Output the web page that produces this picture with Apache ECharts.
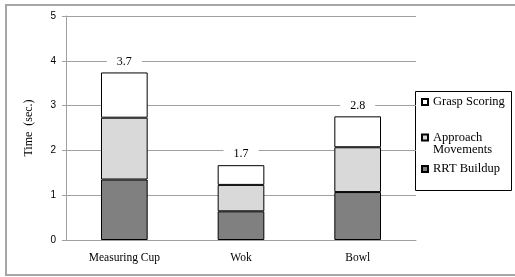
<!DOCTYPE html>
<html>
<head>
<meta charset="utf-8">
<style>
  html, body { margin: 0; padding: 0; background: #fff; }
  #chart { width: 515px; height: 277px; }
</style>
<script src="https://cdn.jsdelivr.net/npm/echarts@6/dist/echarts.min.js"></script>
</head>
<body>
<div id="chart"></div>
<script>
const categories = ['Measuring Cup', 'Wok', 'Bowl'];
const rrtBuildup = [1.35, 0.64, 1.07];
const approachMovements = [1.38, 0.59, 1.00];
const graspScoring = [1.01, 0.44, 0.69];
const yTicks = [0, 1, 2, 3, 4, 5];

const serif = '"Liberation Serif", "Times New Roman", serif';
const sans = '"Liberation Sans", Arial, sans-serif';

const chart = echarts.init(document.getElementById('chart'));

// total on top of each stack
const totals = categories.map((c, i) => rrtBuildup[i] + approachMovements[i] + graspScoring[i]);

function legendFor(name, top, extra) {
    return Object.assign({
        data: [name],
        orient: 'vertical',
        left: 421,
        top: top,
        padding: 0,
        itemWidth: 6,
        itemHeight: 6,
        icon: 'rect',
        selectedMode: false,
        textStyle: { fontFamily: serif, fontSize: 12.5, color: '#000', lineHeight: 12.5 }
    }, extra || {});
}

chart.setOption({
    animation: false,
    backgroundColor: '#fff',
    grid: { left: 66, right: 99, top: 16, bottom: 37 },
    graphic: [
        { type: 'rect', shape: { x: 6, y: 5, width: 520, height: 270 }, style: { fill: 'none', stroke: '#a6a6a6', lineWidth: 2 } },
        { type: 'rect', shape: { x: 415.5, y: 91.5, width: 96, height: 99 }, style: { fill: '#fff', stroke: '#000', lineWidth: 1 } }
    ],
    legend: [
        legendFor('Grasp Scoring', 95.5),
        // blank first line keeps the icon level with "Approach"
        legendFor('Approach Movements', 118.5, {
            formatter: () => '\nApproach\nMovements'
        }),
        legendFor('RRT Buildup', 162.5)
    ],
    xAxis: {
        type: 'category',
        data: categories,
        axisLine: { lineStyle: { color: '#a0a0a0', width: 1 } },
        axisTick: { show: false },
        axisLabel: { fontFamily: serif, fontSize: 11.5, color: '#000', margin: 12 }
    },
    yAxis: {
        type: 'value',
        min: yTicks[0],
        max: yTicks[yTicks.length - 1],
        interval: 1,
        name: 'Time  (sec.)',
        nameLocation: 'middle',
        nameGap: 31,
        nameTextStyle: { fontFamily: serif, fontSize: 12, color: '#000' },
        axisLine: { show: true, lineStyle: { color: '#a0a0a0', width: 1 } },
        axisTick: { show: true, length: 4, lineStyle: { color: '#a0a0a0' } },
        axisLabel: { fontFamily: sans, fontSize: 10, color: '#000', margin: 10 },
        splitLine: { lineStyle: { color: '#a0a0a0', width: 1 } }
    },
    series: [
        {
            name: 'RRT Buildup',
            type: 'bar',
            stack: 'total',
            barWidth: '40%',
            data: rrtBuildup,
            itemStyle: { color: '#808080', borderColor: '#000', borderWidth: 1 }
        },
        {
            name: 'Approach Movements',
            type: 'bar',
            stack: 'total',
            barWidth: '40%',
            data: approachMovements,
            itemStyle: { color: '#d9d9d9', borderColor: '#000', borderWidth: 1 }
        },
        {
            name: 'Grasp Scoring',
            type: 'bar',
            stack: 'total',
            barWidth: '40%',
            data: graspScoring,
            itemStyle: { color: '#ffffff', borderColor: '#000', borderWidth: 1 },
            label: {
                show: true,
                position: 'top',
                distance: 3,
                formatter: p => totals[p.dataIndex].toFixed(1),
                fontFamily: serif,
                fontSize: 12,
                color: '#000',
                backgroundColor: '#fff',
                padding: [2, 10]
            }
        }
    ]
});
</script>
</body>
</html>
